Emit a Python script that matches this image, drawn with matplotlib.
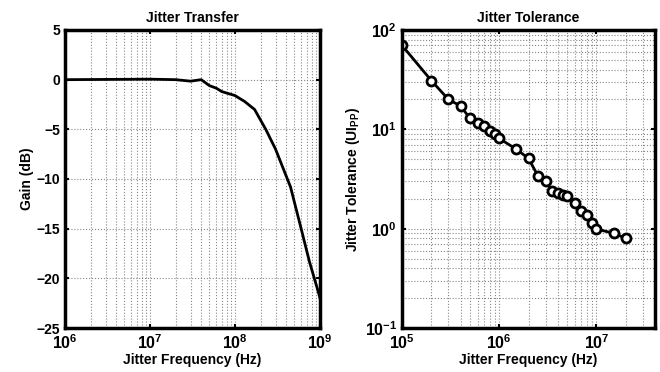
import matplotlib
matplotlib.use("Agg")
import matplotlib.pyplot as plt
import numpy as np
from matplotlib.ticker import LogLocator, NullFormatter

plt.rcParams['font.family'] = ['Liberation Sans', 'DejaVu Sans']
plt.rcParams['font.weight'] = 'bold'
plt.rcParams['mathtext.fontset'] = 'custom'
plt.rcParams['mathtext.rm'] = 'Liberation Sans:bold'
plt.rcParams['mathtext.it'] = 'Liberation Sans:bold'
plt.rcParams['mathtext.bf'] = 'Liberation Sans:bold'

# Jitter transfer data
transfer_freq = [1e6, 1e7, 2e7, 3e7, 4e7, 5e7, 6e7, 7e7, 1e8, 1.3e8, 1.7e8,
                 2.3e8, 3e8, 4.5e8, 6e8, 7.5e8, 9.5e8, 1e9]
transfer_gain = [0.0, 0.05, 0.0, -0.15, 0.0, -0.6, -0.85, -1.2, -1.6, -2.2, -3.0,
                 -5.0, -7.0, -10.8, -15.0, -18.3, -21.3, -22.0]

# Jitter tolerance data
tol_freq = [1e5, 2e5, 3e5, 4e5, 5e5, 6e5, 7e5, 8e5, 9e5, 1e6, 1.5e6, 2e6,
            2.5e6, 3e6, 3.5e6, 4e6, 4.5e6, 5e6, 6e6, 7e6, 8e6, 9e6, 1e7, 1.5e7, 2e7]
tol_ui = [70, 31, 20, 17.2, 12.9, 11.5, 10.7, 9.7, 9.0, 8.1, 6.3, 5.1,
          3.4, 3.0, 2.37, 2.28, 2.2, 2.11, 1.81, 1.49, 1.38, 1.14, 0.99, 0.9, 0.8]

W, H = 660, 372
fig = plt.figure(figsize=(6.6, 3.72), dpi=100)
ax1 = fig.add_axes([65 / W, 44 / H, 255 / W, 298 / H])
ax2 = fig.add_axes([402 / W, 44 / H, 253 / W, 298 / H])

grid_kw = dict(color='#888888', linestyle=':', linewidth=0.8)

def style(ax, xsize, ysize):
    for s in ax.spines.values():
        s.set_linewidth(2.5)
    ax.tick_params(which='both', direction='in', width=1.5, top=True, right=True)
    ax.tick_params(axis='x', labelsize=xsize)
    ax.tick_params(axis='y', labelsize=ysize)
    ax.tick_params(which='minor', length=0)
    ax.tick_params(which='major', length=3)
    for lab in ax.get_xticklabels() + ax.get_yticklabels():
        lab.set_fontweight('bold')

# Left: jitter transfer
ax1.plot(transfer_freq, transfer_gain, color='black', linewidth=2)
ax1.set_xscale('log')
ax1.set_xlim(1e6, 1e9)
ax1.set_ylim(-25, 5)
ax1.set_yticks([-25, -20, -15, -10, -5, 0, 5])
ax1.set_yticklabels(['\u221225', '\u221220', '\u221215', '\u221210', '\u22125', '0', '5'])
ax1.xaxis.set_major_locator(LogLocator(base=10, numticks=10))
ax1.xaxis.set_minor_locator(LogLocator(base=10, subs=np.arange(2, 10), numticks=10))
ax1.xaxis.set_minor_formatter(NullFormatter())
ax1.grid(True, which='major', axis='both', **grid_kw)
ax1.grid(True, which='minor', axis='x', **grid_kw)
ax1.set_axisbelow(True)
ax1.set_title('Jitter Transfer', fontsize=10, fontweight='bold', pad=6)
ax1.set_xlabel('Jitter Frequency (Hz)', fontsize=10, fontweight='bold', labelpad=1)
ax1.set_ylabel('Gain (dB)', fontsize=10, fontweight='bold', labelpad=2)
style(ax1, 11.5, 10)

# Right: jitter tolerance
ax2.plot(tol_freq, tol_ui, color='black', linewidth=2, marker='o',
         markersize=6.5, markerfacecolor='white', markeredgecolor='black',
         markeredgewidth=2)
ax2.set_xscale('log')
ax2.set_yscale('log')
ax2.set_xlim(1e5, 4e7)
ax2.set_ylim(1e-1, 1e2)
ax2.xaxis.set_major_locator(LogLocator(base=10, numticks=10))
ax2.xaxis.set_minor_locator(LogLocator(base=10, subs=np.arange(2, 10), numticks=10))
ax2.yaxis.set_major_locator(LogLocator(base=10, numticks=10))
ax2.yaxis.set_minor_locator(LogLocator(base=10, subs=np.arange(2, 10), numticks=10))
ax2.xaxis.set_minor_formatter(NullFormatter())
ax2.yaxis.set_minor_formatter(NullFormatter())
ax2.grid(True, which='both', axis='both', **grid_kw)
ax2.set_axisbelow(True)
ax2.set_title('Jitter Tolerance', fontsize=10, fontweight='bold', pad=6)
ax2.set_xlabel('Jitter Frequency (Hz)', fontsize=10, fontweight='bold', labelpad=1)
ax2.set_ylabel('Jitter Tolerance (UI$_{\\mathrm{PP}}$)', fontsize=10, fontweight='bold', labelpad=2)
style(ax2, 11.5, 11.5)

fig.savefig('out.png', dpi=100)
